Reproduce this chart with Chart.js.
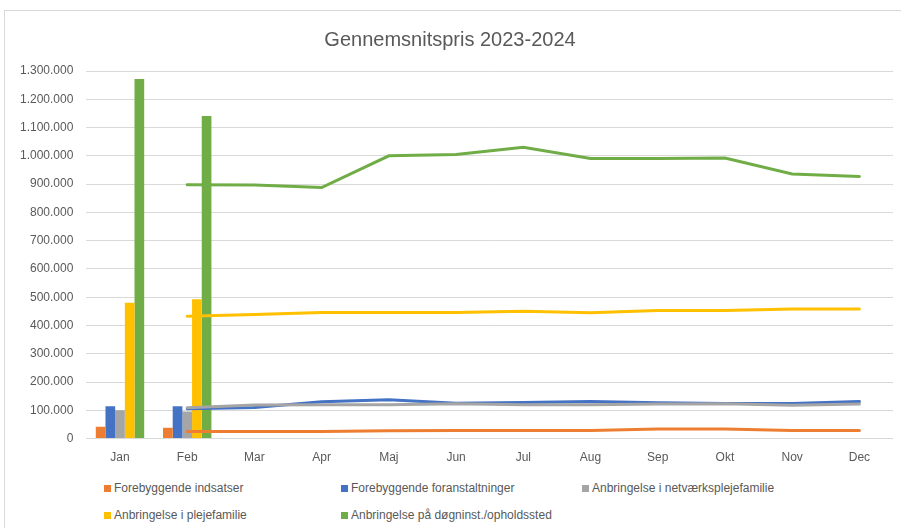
<!DOCTYPE html>
<html>
<head>
<meta charset="utf-8">
<script src="https://cdn.jsdelivr.net/npm/chart.js@4"></script>
<style>
    body { margin: 0; background: #fff; }
    #ramme { position: relative; width: 901px; height: 528px; overflow: hidden; font-family: 'Liberation Sans', sans-serif; }
    #kant { position: absolute; left: 4px; top: 10px; width: 920px; height: 560px; border-top: 1px solid #d9d9d9; border-left: 1px solid #d9d9d9; }
    #grafBoks { position: absolute; left: 0; top: 0; width: 901px; height: 481px; }
    .leg { position: absolute; font-size: 12px; color: #595959; white-space: nowrap; line-height: 14px; }
    .leg span { display: inline-block; width: 7px; height: 7px; margin-right: 3px; }
</style>
</head>
<body>
<div id="ramme">
    <div id="kant"></div>
    <div id="grafBoks"><canvas id="grafico"></canvas></div>
    <div id="legenda"></div>
</div>
<script>
const maaneder = ['Jan', 'Feb', 'Mar', 'Apr', 'Maj', 'Jun', 'Jul', 'Aug', 'Sep', 'Okt', 'Nov', 'Dec'];
const serier = ['Forebyggende indsatser', 'Forebyggende foranstaltninger', 'Anbringelse i netværksplejefamilie',
    'Anbringelse i plejefamilie', 'Anbringelse på døgninst./opholdssted'];
const farver = ['#ED7D31', '#4472C4', '#A5A5A5', '#FFC000', '#70AD47'];

// søjler (kun jan og feb)
const indsatserSojle = [42000, 38000];
const foranstaltningerSojle = [114000, 114000];
const netvaerkSojle = [100000, 96000];
const plejefamilieSojle = [480000, 493000];
const dognSojle = [1272000, 1141000];

// linjer feb-dec
const indsatserLinje = [null, 25000, 25000, 25000, 28000, 29000, 29000, 29000, 34000, 34000, 29000, 29000];
const foranstaltningerLinje = [null, 106000, 110000, 130000, 137000, 125000, 128000, 131000, 127000, 124000, 124000, 131000];
const netvaerkLinje = [null, 109000, 119000, 120000, 120000, 123000, 120000, 120000, 122000, 123000, 118000, 122000];
const plejefamilieLinje = [null, 433000, 439000, 446000, 446000, 446000, 450000, 445000, 453000, 453000, 458000, 458000];
const dognLinje = [null, 898000, 897000, 888000, 1000000, 1005000, 1030000, 991000, 991000, 992000, 936000, 927000];

const soejler = [indsatserSojle, foranstaltningerSojle, netvaerkSojle, plejefamilieSojle, dognSojle];
const linjer = [indsatserLinje, foranstaltningerLinje, netvaerkLinje, plejefamilieLinje, dognLinje];

function formatTal(v) {
    return String(v).replace(/\B(?=(\d{3})+(?!\d))/g, '.');
}

const datasets = [];
for (let i = 0; i < serier.length; i++) {
    datasets.push({
        type: 'bar',
        label: serier[i],
        data: soejler[i],
        backgroundColor: farver[i],
        categoryPercentage: 0.72,
        barPercentage: 1.0,
        order: 20
    });
}
// senere serier tegnes øverst, som i Excel
for (let i = 0; i < serier.length; i++) {
    datasets.push({
        type: 'line',
        label: serier[i] + ' linje',
        data: linjer[i],
        borderColor: farver[i],
        backgroundColor: farver[i],
        borderWidth: 3,
        pointRadius: 0,
        tension: 0,
        borderCapStyle: 'round',
        order: 10 - i
    });
}

const ctx = document.getElementById('grafico').getContext('2d');
new Chart(ctx, {
    data: { labels: maaneder, datasets: datasets },
    options: {
        responsive: true,
        maintainAspectRatio: false,
        animation: false,
        layout: { padding: { left: 7, right: 8, top: 28, bottom: 12 } },
        plugins: {
            legend: { display: false },
            tooltip: { enabled: false },
            title: {
                display: true,
                text: 'Gennemsnitspris 2023-2024',
                color: '#595959',
                font: { family: "'Liberation Sans', sans-serif", size: 20, weight: 'normal' },
                padding: { top: 0, bottom: 19 }
            }
        },
        scales: {
            x: {
                grid: { display: false },
                border: { display: false },
                ticks: { color: '#595959', font: { family: "'Liberation Sans', sans-serif", size: 12 }, padding: 4 }
            },
            y: {
                min: 0,
                max: 1300000,
                grid: { color: '#d9d9d9', drawTicks: false },
                border: { display: false },
                ticks: {
                    stepSize: 100000,
                    color: '#595959',
                    padding: 13,
                    font: { family: "'Liberation Sans', sans-serif", size: 12 },
                    callback: function (v) { return formatTal(v); }
                }
            }
        }
    }
});

// legende i tre kolonner
const legPos = [[104, 481], [341, 481], [582, 481], [104, 508], [341, 508]];
let html = '';
for (let i = 0; i < serier.length; i++) {
    html += '<div class="leg" style="left:' + legPos[i][0] + 'px;top:' + legPos[i][1] + 'px"><span style="background:' + farver[i] + '"></span>' + serier[i] + '</div>';
}
document.getElementById('legenda').innerHTML = html;
</script>
</body>
</html>
